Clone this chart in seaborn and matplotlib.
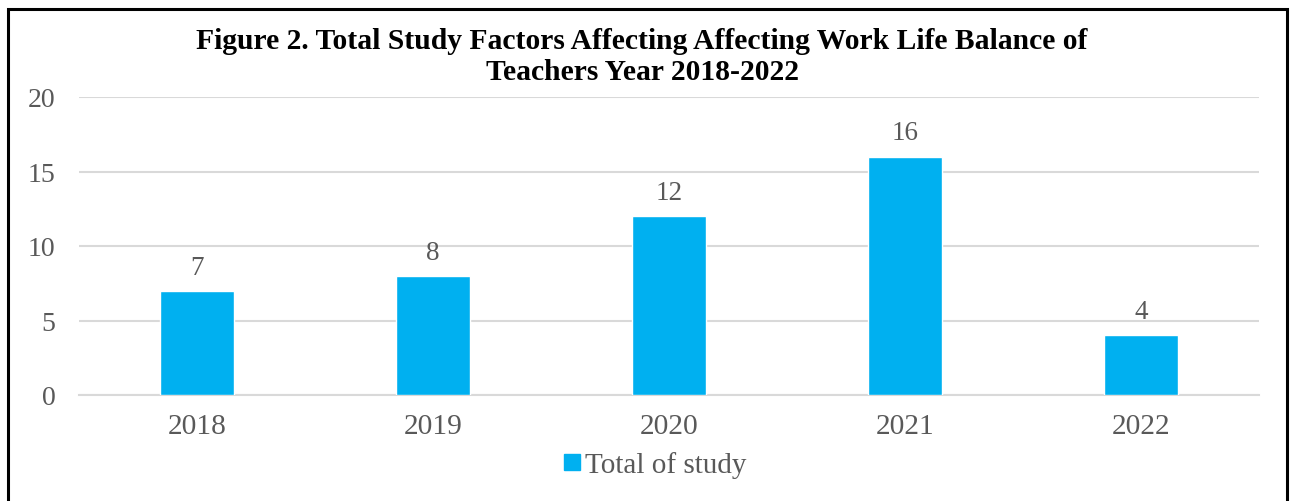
import matplotlib
matplotlib.use("Agg")
import matplotlib.pyplot as plt
import seaborn as sns
import pandas as pd
from matplotlib.patches import Rectangle
from matplotlib.lines import Line2D

years = ["2018", "2019", "2020", "2021", "2022"]
totals = [7, 8, 12, 16, 4]
series_name = "Total of study"
title = "Figure 2. Total Study Factors Affecting Affecting Work Life Balance of\nTeachers Year 2018-2022"
yticks = [0, 5, 10, 15, 20]

df = pd.DataFrame({"Year": years, "Total": totals})

sns.set_theme(style="white")
plt.rcParams["font.family"] = ["Liberation Serif", "DejaVu Serif"]

W, H = 1291, 502
fig = plt.figure(figsize=(W / 100, H / 100), dpi=100)
ax = fig.add_axes([79 / W, 1 - 396 / H, (1259 - 79) / W, (396 - 98) / H])

bar_color = "#00B0F0"
text_gray = "#595959"
grid_gray = "#D9D9D9"

sns.barplot(data=df, x="Year", y="Total", color=bar_color, width=0.315,
            saturation=1, ax=ax, zorder=3)

ax.set_ylim(0, 20)
ax.set_xlim(-0.5, len(years) - 0.5)
ax.set_yticks(yticks)
ax.set_yticklabels([str(t) for t in yticks])
ax.yaxis.grid(True, color=grid_gray, linewidth=1.5, zorder=0)
ax.xaxis.grid(False)
for s in ["top", "right", "left"]:
    ax.spines[s].set_visible(False)
ax.spines["bottom"].set_color(grid_gray)
ax.spines["bottom"].set_linewidth(1.5)
ax.tick_params(axis="both", length=0)
ax.tick_params(axis="x", labelsize=21.2, labelcolor=text_gray, pad=13)
ax.tick_params(axis="y", labelsize=20, labelcolor=text_gray, pad=17)
ax.set_xlabel("")
ax.set_ylabel("")

for c in ax.containers:
    ax.bar_label(c, labels=[str(v) for v in totals], padding=8,
                 fontsize=19.5, color=text_gray)

handle = Line2D([], [], marker="s", linestyle="none", markersize=11,
                markerfacecolor=bar_color, markeredgecolor=bar_color)
fig.legend([handle], [series_name], loc="center", bbox_to_anchor=(654 / W, 1 - 466 / H),
           frameon=False, fontsize=21, handletextpad=0.1, labelcolor=text_gray,
           handlelength=0.7)

fig.text(642 / W, 1 - 57 / H, title, ha="center", va="center", fontsize=21.3,
         fontweight="bold", color="black", linespacing=1.22)

fig.patches.append(Rectangle((8 / W, -0.05), (1287 - 8) / W, 1.05 - 10 / H,
                             transform=fig.transFigure, fill=False,
                             edgecolor="black", linewidth=2.2))

fig.savefig("out.png", dpi=100)
